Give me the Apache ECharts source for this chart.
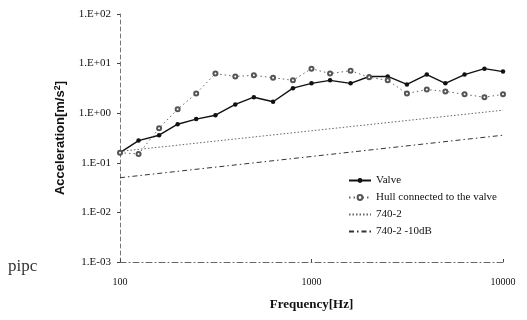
<!DOCTYPE html>
<html>
<head>
<meta charset="utf-8">
<script src="https://cdn.jsdelivr.net/npm/echarts@6/dist/echarts.min.js"></script>
<style>
  html, body { margin: 0; padding: 0; background: #fff; }
  #chart { width: 527px; height: 320px; }
</style>
</head>
<body>
<div id="chart"></div>
<script>
// 1/3 octave bands
const freqs = [100, 125, 160, 200, 250, 315, 400, 500, 630, 800, 1000, 1250, 1600, 2000, 2500, 3150, 4000, 5000, 6300, 8000, 10000]
const valve = [0.16, 0.28, 0.36, 0.6, 0.76, 0.91, 1.5, 2.1, 1.7, 3.2, 4.0, 4.6, 4.0, 5.5, 5.5, 3.8, 6.0, 4.0, 6.0, 7.9, 6.9]
const hull = [0.16, 0.15, 0.5, 1.2, 2.5, 6.3, 5.5, 5.8, 5.2, 4.6, 7.9, 6.3, 7.2, 5.3, 4.6, 2.5, 3.0, 2.75, 2.4, 2.1, 2.4]
// limit lines (straight on log-log)
const limitFreqs = [100, 10000]
const limit740 = [0.17, 1.15]
const limit740m10 = [0.05, 0.36]

const serif = '"Liberation Serif", "DejaVu Serif", serif'

const pairs = (xs, ys) => xs.map((x, i) => [x, ys[i]])

const fmtY = v => {
  const e = Math.round(Math.log10(v))
  return '1.E' + (e < 0 ? '-' : '+') + String(Math.abs(e)).padStart(2, '0')
}

const chart = echarts.init(document.getElementById('chart'))

chart.setOption({
  animation: false,
  backgroundColor: '#fff',
  textStyle: { fontFamily: serif, color: '#111' },
  grid: { left: 120, right: 24, top: 14, bottom: 58 },
  legend: {
    orient: 'vertical',
    left: 343,
    top: 170,
    itemWidth: 22,
    itemHeight: 6,
    itemGap: 6,
    textStyle: { fontFamily: serif, fontSize: 11, color: '#111' },
    data: [
      'Valve',
      'Hull connected to the valve',
      { name: '740-2', itemStyle: { opacity: 0 } },
      { name: '740-2 -10dB', itemStyle: { opacity: 0 } }
    ]
  },
  xAxis: {
    type: 'log',
    logBase: 10,
    min: 100,
    max: 10000,
    axisLine: { lineStyle: { color: '#666', width: 1, type: [6, 3, 1, 3] } },
    axisTick: { show: true, length: 3, inside: true, lineStyle: { color: '#444' } },
    minorTick: { show: false },
    splitLine: { show: false },
    axisLabel: { fontFamily: serif, fontSize: 10, color: '#111', margin: 15, formatter: v => String(Math.round(v)) },
    name: 'Frequency[Hz]',
    nameLocation: 'middle',
    nameGap: 36,
    nameTextStyle: { fontFamily: serif, fontSize: 13, fontWeight: 'bold', color: '#111' }
  },
  yAxis: {
    type: 'log',
    logBase: 10,
    min: 0.001,
    max: 100,
    axisLine: { show: true, lineStyle: { color: '#777', width: 1, type: [4, 3] } },
    axisTick: { show: true, length: 3, lineStyle: { color: '#444' } },
    splitLine: { show: false },
    axisLabel: { fontFamily: serif, fontSize: 11, color: '#111', margin: 9, formatter: fmtY },
    name: 'Acceleration[m/s{sup|2}]',
    nameLocation: 'middle',
    nameGap: 52,
    nameTextStyle: {
      fontFamily: '"Liberation Sans", Arial, sans-serif',
      fontSize: 13,
      fontWeight: 'bold',
      color: '#111',
      rich: {
        sup: { fontSize: 9, fontWeight: 'bold', verticalAlign: 'top', padding: [0, 0, 6, 0] }
      }
    }
  },
  graphic: [
    {
      type: 'text',
      left: 8,
      top: 258,
      style: { text: 'pipc', font: '17px "Liberation Serif", serif', fill: '#333' }
    }
  ],
  series: [
    {
      name: 'Valve',
      type: 'line',
      data: pairs(freqs, valve),
      symbol: 'circle',
      symbolSize: 4.5,
      itemStyle: { color: '#111' },
      lineStyle: { color: '#111', width: 1.4 }
    },
    {
      name: 'Hull connected to the valve',
      type: 'line',
      data: pairs(freqs, hull),
      symbol: 'emptyCircle',
      symbolSize: 4,
      itemStyle: { color: '#555', borderWidth: 1 },
      lineStyle: { color: '#666', width: 1, type: [1.5, 3] }
    },
    {
      name: '740-2',
      type: 'line',
      data: pairs(limitFreqs, limit740),
      symbol: 'none',
      itemStyle: { color: '#666' },
      lineStyle: { color: '#666', width: 1, type: [1.5, 2] }
    },
    {
      name: '740-2 -10dB',
      type: 'line',
      data: pairs(limitFreqs, limit740m10),
      symbol: 'none',
      itemStyle: { color: '#333' },
      lineStyle: { color: '#333', width: 1, type: [5, 3, 1.5, 3] }
    }
  ]
})

window.addEventListener('resize', () => chart.resize())
</script>
</body>
</html>
